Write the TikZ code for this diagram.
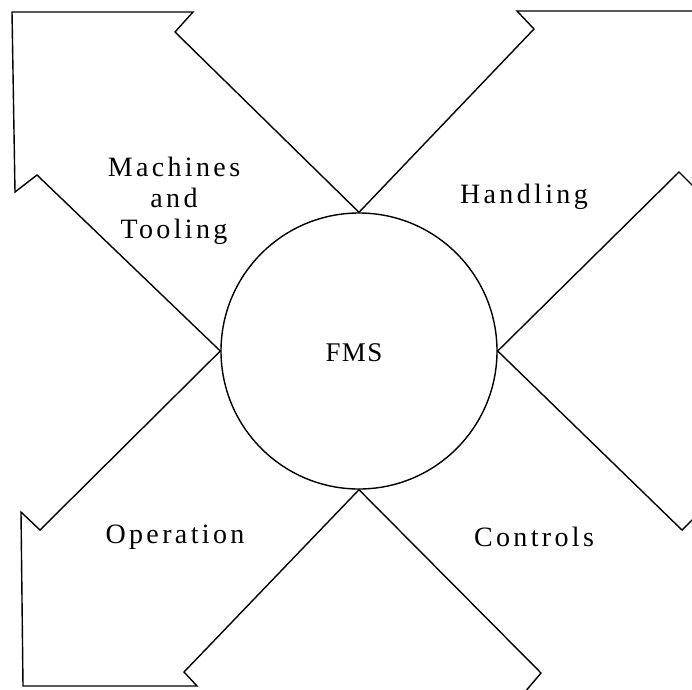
\documentclass[tikz,border=0pt]{standalone}
\usepackage{fontspec}
\setmainfont{Liberation Serif}
\newfontfamily\labfont[LetterSpace=12]{Liberation Serif}
\newfontfamily\fmsfont[LetterSpace=5]{Liberation Serif}
\begin{document}
\begin{tikzpicture}[x=1pt,y=-1pt,
  outline/.style={draw=black,line width=1.4pt,line join=miter},
  lab/.style={font=\labfont\fontsize{28}{31}\selectfont,inner sep=0pt,align=center}]
\useasboundingbox (0,0) rectangle (692,689);
\clip (0,0) rectangle (692,689);
\node[circle,draw=black,line width=1.4pt,minimum size=276pt,inner sep=0pt] (fms) at (359,351) {};
\node[font=\fmsfont\fontsize{27}{30}\selectfont,inner sep=0pt,anchor=base] (fmslab) at (354,361) {FMS};
% top-left arrow
\draw[outline] (fms.north) -- (175,32) -- (193,12) -- (12,12) -- (15,192) -- (37,175) -- (fms.west);
% top-right arrow
\draw[outline] (fms.north) -- (534,29) -- (517,11) -- (698,11) -- (698,191) -- (679,172) -- (fms.east);
% bottom-right arrow
\draw[outline] (fms.east) -- (682,530) -- (698,514) -- (698,693) -- (524,693) -- (541,673) -- (fms.south);
% bottom-left arrow
\draw[outline] (fms.west) -- (40,530) -- (21,512) -- (23,686) -- (197,686) -- (184,672) -- (fms.south);
% labels
\node[lab] (mt) at (174,201) {Machines\\and\\Tooling};
\node[lab,anchor=base] (hd) at (524,203) {Handling};
\node[lab,anchor=base] (op) at (175,543) {Operation};
\node[lab,anchor=base] (ct) at (534,546) {Controls};
\end{tikzpicture}
\end{document}
